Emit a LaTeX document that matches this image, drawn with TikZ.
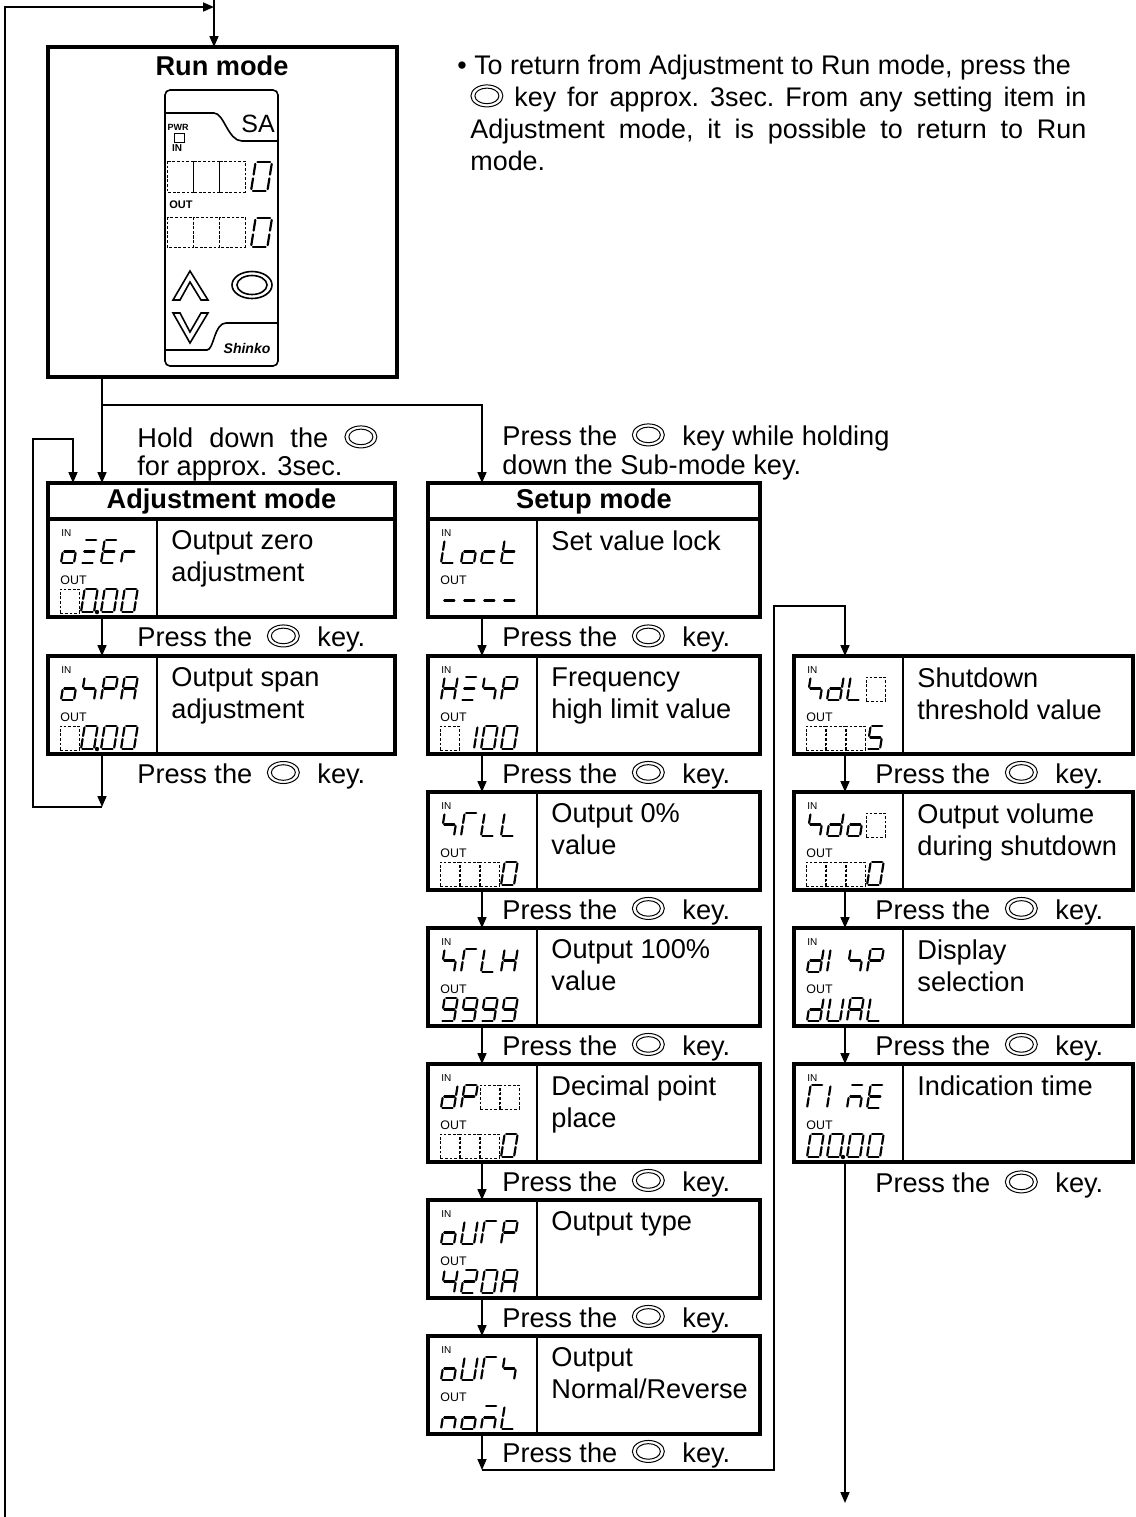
\documentclass[tikz,border=0pt]{standalone}
\usepackage{fontspec}
\setmainfont{Liberation Sans}
\usetikzlibrary{arrows.meta, positioning, calc}

% seven segment cells, one key per segment, one style per glyph
\tikzset{
seg/.style={line width=1.1pt, line cap=round, xslant=0.16},
blankcell/.style={line width=0.4pt, dash pattern=on 1.4pt off 0.9pt},
sg/a/.code={\draw[seg] (1.5,-23) -- (11.5,-23);},
sg/b/.code={\draw[seg] (13,-21.5) -- (13,-13);},
sg/c/.code={\draw[seg] (13,-10) -- (13,-1.5);},
sg/d/.code={\draw[seg] (1.5,0) -- (11.5,0);},
sg/e/.code={\draw[seg] (0,-10) -- (0,-1.5);},
sg/f/.code={\draw[seg] (0,-21.5) -- (0,-13);},
sg/g/.code={\draw[seg] (1.5,-11.5) -- (11.5,-11.5);},
sg/p/.code={\fill (16,0) circle (1.1pt);},
sg/box/.code={\draw[blankcell] (-1,1) rectangle (18,-23);},
glyph/0/.style={sg/a, sg/b, sg/c, sg/d, sg/e, sg/f},
glyph/0d/.style={glyph/0, sg/p},
glyph/1/.style={sg/b, sg/c},
glyph/2/.style={sg/a, sg/b, sg/g, sg/e, sg/d},
glyph/4/.style={sg/f, sg/g, sg/b, sg/c},
glyph/5/.style={sg/a, sg/f, sg/g, sg/c, sg/d},
glyph/9/.style={sg/a, sg/b, sg/c, sg/d, sg/f, sg/g},
glyph/-/.style={sg/g},
glyph/A/.style={sg/a, sg/b, sg/c, sg/e, sg/f, sg/g},
glyph/c/.style={sg/g, sg/e, sg/d},
glyph/d/.style={sg/b, sg/c, sg/d, sg/e, sg/g},
glyph/E/.style={sg/a, sg/d, sg/e, sg/f, sg/g},
glyph/H/.style={sg/b, sg/c, sg/e, sg/f, sg/g},
glyph/I/.style={sg/e, sg/f},
glyph/L/.style={sg/d, sg/e, sg/f},
glyph/M/.style={sg/a, sg/c, sg/e, sg/g},
glyph/n/.style={sg/c, sg/e, sg/g},
glyph/o/.style={sg/c, sg/d, sg/e, sg/g},
glyph/P/.style={sg/a, sg/b, sg/e, sg/f, sg/g},
glyph/r/.style={sg/e, sg/g},
glyph/S/.style={sg/f, sg/g, sg/c},
glyph/t/.style={sg/d, sg/e, sg/f, sg/g},
glyph/T/.style={sg/a, sg/e, sg/f},
glyph/U/.style={sg/b, sg/c, sg/d, sg/e, sg/f},
glyph/Z/.style={sg/a, sg/d, sg/g},
glyph/box/.style={sg/box}
}

% the mode key as it is printed in the text
\newcommand\keyglyph{\tikz[baseline=0pt, x=1pt, y=1pt, line width=0.5pt, solid]{%
\draw (0,5.5) ellipse [x radius=8, y radius=5.5];
\draw (0,5.5) ellipse [x radius=6, y radius=3.9];}}
\newcommand\keyicon{\hspace{3.5pt}\keyglyph\hspace{5pt}}
\newcommand\presstext{Press the \keyicon{} key.}

% a row of four cells, #1 = bottom left of the first one
\newcommand\lcdrow[2]{%
\foreach \cell [count=\k from 0] in {#2} {
\begin{scope}[shift={#1}, xshift=\k*10pt]
\tikzset{glyph/\cell}
\end{scope}}}

% display and text of one setting item
\newcommand\fillitem[4]{%
\draw[divider] ([xshift=54.5pt]#1.north west) -- ([xshift=54.5pt]#1.south west);
\node[desc] at ([xshift=61.5pt, yshift=-5.5pt]#1.north west) {#2};
\begin{scope}[shift={(#1.north west)}]
\node[inlbl] at (13,14) {IN};
\node[outlbl] at (12,61) {OUT};
\lcdrow{(13,44)}{#3}
\lcdrow{(13,93)}{#4}
\end{scope}}

\begin{document}
\begin{tikzpicture}[x=0.5pt, y=-0.5pt,
arrow/.style={-{Triangle[length=5.5pt, width=4.5pt]}, line width=0.8pt},
modebox/.style={draw, line width=2pt, inner sep=0pt, outer sep=0pt},
modehead/.style={modebox, minimum width=#1, minimum height=18pt, font=\bfseries},
itembox/.style={modebox, minimum width=#1, minimum height=49pt},
desc/.style={anchor=north west, inner sep=0pt, align=left},
presslbl/.style={anchor=west, inner sep=0pt, xshift=#1, yshift=-1pt},
inlbl/.style={anchor=west, inner sep=0pt, font=\fontsize{5}{5}\selectfont},
outlbl/.style={anchor=west, inner sep=0pt, font=\fontsize{6.2}{6}\selectfont},
divider/.style={line width=1pt},
panel/.style={line width=0.8pt}
]
\fontsize{13.6}{16}\selectfont
\useasboundingbox (0,0) rectangle (1136,1517);

% run mode
\node[modebox, minimum width=174.5pt, minimum height=165pt] (run) at (222,212) {};
\node[anchor=north, inner sep=0pt, font=\bfseries] (runtitle) at ([yshift=-4pt]run.north) {Run mode};

% front panel
\draw[panel, rounded corners=2.5pt] (165,90) rectangle (278,366);
\draw[panel] (165,113) -- (214,113) .. controls (224,113) and (228,141) .. (242,141) -- (278,141);
\node[inner sep=0pt, font=\fontsize{12.5}{12}\selectfont] at (258,124) {SA};
\node[inner sep=0pt, font=\bfseries\fontsize{4.5}{4}\selectfont] at (178,127) {PWR};
\draw[line width=0.5pt] (174,133) rectangle (184,142);
\node[inner sep=0pt, font=\bfseries\fontsize{5}{5}\selectfont] at (177,148) {IN};
\node[inner sep=0pt, font=\bfseries\fontsize{5.5}{5}\selectfont] at (181,205) {OUT};
\foreach \bx in {167,193,219} {
\draw[blankcell] (\bx,161) rectangle ++(26,31);
\draw[blankcell] (\bx,217) rectangle ++(26,30);
}
\begin{scope}[shift={(251,191)}, scale=1.26] \tikzset{glyph/0} \end{scope}
\begin{scope}[shift={(251,247)}, scale=1.26] \tikzset{glyph/0} \end{scope}
\draw[panel] (173,300) -- (190,271) -- (208,300) -- (201,300) -- (190,282) -- (180,300) -- cycle;
\draw[panel] (173,313) -- (190,343) -- (208,313) -- (201,313) -- (190,332) -- (180,313) -- cycle;
\draw[panel] (252,285) ellipse [x radius=20, y radius=13.5];
\draw[panel] (252,285) ellipse [x radius=15, y radius=9.5];
\draw[panel] (165,350) -- (207,350) .. controls (214,350) and (214,323) .. (226,323) -- (278,323);
\node[inner sep=0pt, font=\bfseries\itshape\fontsize{7}{7}\selectfont] at (247,348) {Shinko};

% note
\node[anchor=north west, inner sep=0pt, text width=314.5pt, align=justify, font=\fontsize{13.45}{16}\selectfont] (note) at (457,55)
{\noindent\frenchspacing\hangindent=6.5pt \hangafter=1 \textbullet\ To return from Adjustment to Run mode, press the\\
\keyglyph{} key for approx. 3sec. From any setting item in\linebreak
Adjustment mode, it is possible to return to Run\linebreak mode.\par};

% adjustment mode
\node[modehead=173.5pt] (adjhead) at (221.5,501) {Adjustment mode};
\node[itembox=173.5pt, below=0pt of adjhead] (ozer) {};
\node[itembox=173.5pt, below=19.5pt of ozer] (ospa) {};
\fillitem{ozer}{Output zero\\adjustment}{o,Z,E,r}{box,0d,0,0}
\fillitem{ospa}{Output span\\adjustment}{o,S,P,A}{box,0d,0,0}

% setup mode
\node[modehead=166pt] (sethead) at (594,501) {Setup mode};
\node[itembox=166pt, below=0pt of sethead] (lock) {};
\node[itembox=166pt, below=19.5pt of lock] (hisp) {};
\node[itembox=166pt, below=19pt of hisp] (stll) {};
\node[itembox=166pt, below=19pt of stll] (stlh) {};
\node[itembox=166pt, below=19pt of stlh] (dp) {};
\node[itembox=166pt, below=19pt of dp] (outp) {};
\node[itembox=166pt, below=19pt of outp] (outs) {};
\fillitem{lock}{Set value lock}{L,o,c,t}{-,-,-,-}
\fillitem{hisp}{Frequency\\high limit value}{H,Z,S,P}{box,1,0,0}
\fillitem{stll}{Output 0\%\\value}{S,T,L,L}{box,box,box,0}
\fillitem{stlh}{Output 100\%\\value}{S,T,L,H}{9,9,9,9}
\fillitem{dp}{Decimal point\\place}{d,P,box,box}{box,box,box,0}
\fillitem{outp}{Output type}{o,U,T,P}{4,2,0,A}
\fillitem{outs}{Output\\Normal/Reverse}{o,U,T,S}{n,o,M,L}

% right column
\node[itembox=169.5pt, right=17pt of hisp] (sdl) {};
\node[itembox=169.5pt, below=19pt of sdl] (sdo) {};
\node[itembox=169.5pt, below=19pt of sdo] (disp) {};
\node[itembox=169.5pt, below=19pt of disp] (time) {};
\fillitem{sdl}{Shutdown\\threshold value}{S,d,L,box}{box,box,box,5}
\fillitem{sdo}{Output volume\\during shutdown}{S,d,o,box}{box,box,box,0}
\fillitem{disp}{Display\\selection}{d,I,S,P}{d,U,A,L}
\fillitem{time}{Indication time}{T,I,M,E}{0,0d,0,0}

% key texts
\node[anchor=north west, inner sep=0pt, align=left, font=\fontsize{13.6}{14}\selectfont] (holdtxt) at (137,425)
{\makebox[120pt][s]{Hold down the \keyglyph}\\for approx. 3sec.};
\node[anchor=north west, inner sep=0pt, align=left, font=\fontsize{13.6}{14.5}\selectfont] (subtxt) at (502,423)
{Press the \keyicon{} key while holding\\down the Sub-mode key.};

% connectors
\coordinate (entry) at (214,0);
\coordinate (merge) at (214,7);
\coordinate (retloop) at (5,1517);
\draw[arrow] (entry) -- (entry |- run.north);
\draw[arrow] (retloop) |- (merge);

\coordinate (adjin) at ([xshift=27pt]adjhead.north west);
\coordinate (setin) at ([xshift=27pt]sethead.north west);
\coordinate (fork) at (adjin |- 0,405);
\draw[arrow] (adjin |- run.south) -- (adjin);
\draw[arrow] (fork) -| (setin);

\draw[arrow] ([xshift=27pt]ozer.south west) -- node[presslbl=17.5pt] {\presstext} ([xshift=27pt]ospa.north west);
\coordinate (adjback) at ($(ospa.south west)+(54,53)$);
\draw[arrow] ([xshift=27pt]ospa.south west) -- node[presslbl=17.5pt, pos=0.36] {\presstext} (adjback);
\draw[arrow] (adjback) -| ++(-69,-368) -| ([xshift=12.5pt]adjhead.north west);

\foreach \a/\b in {lock/hisp, hisp/stll, stll/stlh, stlh/dp, dp/outp, outp/outs}
\draw[arrow] ([xshift=27pt]\a.south west) -- node[presslbl=10pt] {\presstext} ([xshift=27pt]\b.north west);
\coordinate (setback) at ($(outs.south west)+(54,36)$);
\draw[arrow] ([xshift=27pt]outs.south west) -- node[presslbl=10pt] {\presstext} (setback);
\draw[arrow] (setback) -| ++(292,-864) -| ([xshift=25.5pt]sdl.north west);

\foreach \a/\b in {sdl/sdo, sdo/disp, disp/time}
\draw[arrow] ([xshift=25.5pt]\a.south west) -- node[presslbl=15pt] {\presstext} ([xshift=25.5pt]\b.north west);
\coordinate (timeout) at ($(time.south west)+(51,341)$);
\draw[arrow] ([xshift=25.5pt]time.south west) -- node[presslbl=15pt, pos=0.06] {\presstext} (timeout);

\end{tikzpicture}
\end{document}
